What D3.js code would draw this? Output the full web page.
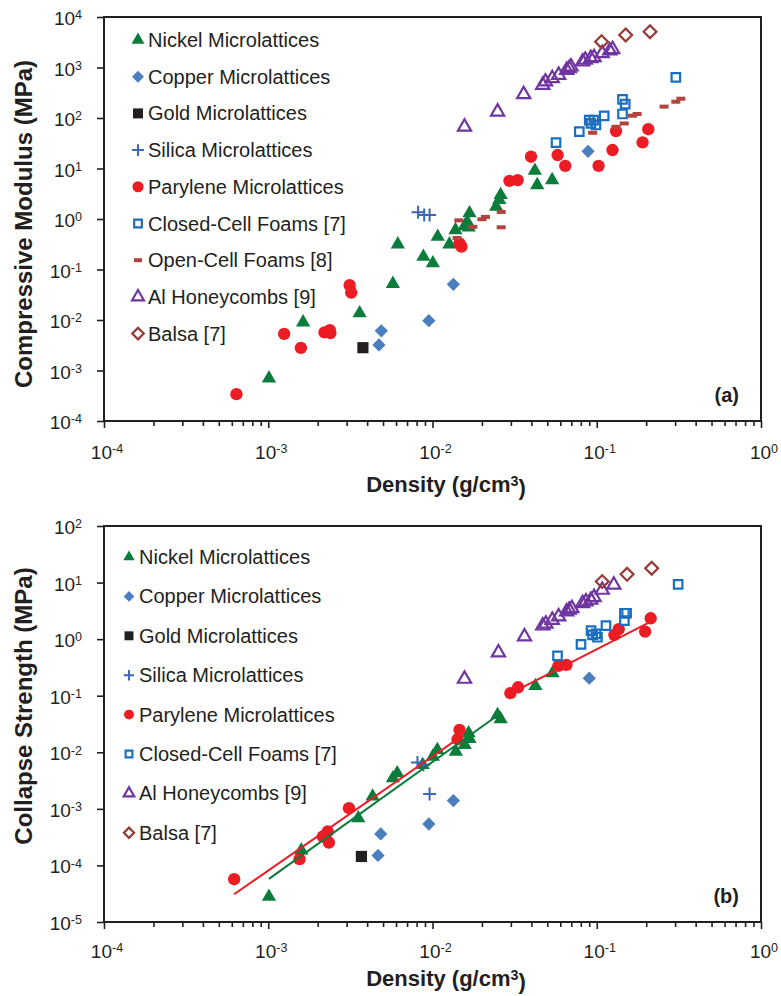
<!DOCTYPE html>
<html>
<head>
<meta charset="utf-8">
<script src="https://cdn.jsdelivr.net/npm/d3@7"></script>
<style>
  body { margin: 0; background: #fff; }
  text { font-family: "Liberation Sans", Arial, sans-serif; fill: #231f20; }
</style>
</head>
<body>
<svg id="chart" width="781" height="996"></svg>
<script>
// Values: [density (g/cm3), value (MPa)]

// (a) compressive modulus
const nickelModulus = [[0.00101, 7.0e-4], [0.00163, 0.009], [0.0036, 0.0136], [0.00574, 0.052], [0.00615, 0.315],
  [0.0088, 0.18], [0.01005, 0.133], [0.01076, 0.447], [0.01267, 0.315], [0.0138, 0.605], [0.0163, 0.87],
  [0.0166, 0.685], [0.0168, 1.3], [0.0157, 0.73], [0.0244, 1.75], [0.0255, 2.38], [0.026, 2.99],
  [0.042, 9.05], [0.0434, 4.7], [0.0535, 5.9]];
const copperModulus = [[0.00488, 0.0061], [0.00472, 0.0032], [0.0095, 0.0097], [0.0134, 0.051], [0.0886, 21.9]];
const goldModulus = [[0.00377, 0.00283]];
const silicaModulus = [[0.00817, 1.36], [0.0089, 1.2], [0.0096, 1.2]];
const paryleneModulus = [[0.00064, 0.00034], [0.00125, 0.0053], [0.00158, 0.0028], [0.0022, 0.0057],
  [0.00237, 0.0063], [0.00239, 0.0055], [0.00313, 0.049], [0.0032, 0.035], [0.0146, 0.33], [0.015, 0.283],
  [0.0294, 5.7], [0.033, 5.9], [0.0398, 17.1], [0.0578, 18.5], [0.0643, 11.3], [0.1026, 11.3],
  [0.1247, 23.2], [0.131, 55], [0.19, 33], [0.206, 60]];
const closedModulus = [[0.0565, 32.4], [0.0783, 53.6], [0.09, 91], [0.0922, 78.5], [0.0989, 72.6], [0.096, 91],
  [0.111, 110], [0.1435, 234], [0.149, 189], [0.1435, 120], [0.303, 640]];
const openModulus = [[0.01445, 0.94], [0.0141, 0.42], [0.0176, 0.7], [0.02, 0.99], [0.021, 1.1], [0.0262, 1.38],
  [0.0262, 0.685], [0.0944, 51], [0.131, 67], [0.147, 78], [0.165, 111], [0.176, 120], [0.257, 168],
  [0.303, 210], [0.325, 241]];
const alModulus = [[0.01566, 67], [0.0249, 133], [0.0359, 294], [0.0469, 450], [0.0487, 524], [0.0536, 611],
  [0.0586, 710], [0.0656, 891], [0.068, 964], [0.0697, 1038], [0.082, 1303], [0.0851, 1410], [0.092, 1520],
  [0.0963, 1590], [0.108, 1910], [0.125, 2290], [0.12, 2150]];
const balsaModulus = [[0.107, 3240], [0.15, 4400], [0.211, 5110]];

// (b) collapse strength
const nickelStrength = [[0.00101, 2.8e-5], [0.00159, 1.85e-4], [0.00353, 6.85e-4], [0.00432, 1.66e-3],
  [0.00574, 3.48e-3], [0.0061, 4.27e-3], [0.0087, 5.98e-3], [0.01005, 8.4e-3], [0.0107, 0.011],
  [0.01387, 0.0103], [0.0157, 0.0135], [0.0166, 0.0217], [0.0168, 0.0173], [0.0249, 0.0458],
  [0.026, 0.0385], [0.0423, 0.149], [0.0538, 0.25]];
const copperStrength = [[0.00484, 3.6e-4], [0.00466, 1.5e-4], [0.0095, 5.4e-4], [0.0134, 1.4e-3], [0.09, 0.204]];
const goldStrength = [[0.00369, 1.44e-4]];
const silicaStrength = [[0.0081, 6.6e-3], [0.0088, 6.0e-3], [0.0096, 1.84e-3]];
const paryleneStrength = [[0.00062, 5.7e-5], [0.00155, 1.29e-4], [0.00215, 3.24e-4], [0.0023, 3.97e-4],
  [0.00234, 2.54e-4], [0.0031, 1.03e-3], [0.0146, 0.0249], [0.0142, 0.017], [0.0298, 0.111], [0.0332, 0.141],
  [0.0584, 0.336], [0.0654, 0.35], [0.128, 1.19], [0.136, 1.5], [0.197, 1.36], [0.213, 2.34]];
const closedStrength = [[0.0577, 0.505], [0.0802, 0.81], [0.0923, 1.41], [0.0944, 1.19], [0.099, 1.24],
  [0.101, 1.08], [0.1138, 1.73], [0.1474, 2.87], [0.152, 2.87], [0.1474, 2.12], [0.313, 9.3]];
const alStrength = [[0.01566, 0.198], [0.0252, 0.577], [0.0363, 1.11], [0.0469, 1.73], [0.049, 1.86],
  [0.0536, 2.18], [0.0586, 2.5], [0.0656, 3.06], [0.068, 3.28], [0.0706, 3.51], [0.082, 4.31], [0.086, 4.61],
  [0.092, 4.93], [0.0963, 5.5], [0.108, 7.4], [0.127, 9.1]];
const balsaStrength = [[0.108, 10.4], [0.153, 14.0], [0.216, 17.9]];

// power-law fit lines in (b), end points
const nickelFit = [[0.00101, 5.8e-5], [0.026, 0.049]];
const paryleneFitLow = [[0.00062, 3.1e-5], [0.0149, 0.0189]];
const paryleneFitHigh = [[0.0301, 0.111], [0.213, 2.04]];

// axes
const densityExponents = [-4, -3, -2, -1, 0];
const modulusExponents = [-4, -3, -2, -1, 0, 1, 2, 3, 4];
const strengthExponents = [-5, -4, -3, -2, -1, 0, 1, 2];

const names = {
  nickel: "Nickel Microlattices", copper: "Copper Microlattices", gold: "Gold Microlattices",
  silica: "Silica Microlattices", parylene: "Parylene Microlattices", closed: "Closed-Cell Foams [7]",
  open: "Open-Cell Foams [8]", al: "Al Honeycombs [9]", balsa: "Balsa [7]"
};

// marker styles
const styles = {
  nickel:   { shape: "tri",  color: "#0b7c3b" },
  copper:   { shape: "dia",  color: "#4a7ebf" },
  gold:     { shape: "sq",   color: "#231f20" },
  silica:   { shape: "plus", color: "#3b65b8" },
  parylene: { shape: "circ", color: "#ec1c24" },
  closed:   { shape: "osq",  color: "#1a6fbe" },
  open:     { shape: "dash", color: "#b1443f" },
  al:       { shape: "otri", color: "#6f36a0" },
  balsa:    { shape: "odia", color: "#963a35" }
};

const svg = d3.select("#chart");
const xLeft = 104, xRight = 761;

function drawMarker(g, key, cx, cy, k) {
  const s = styles[key];
  const t = `translate(${cx},${cy})`;
  switch (s.shape) {
    case "tri":
      g.append("path").attr("d", d3.symbol(d3.symbolTriangle, 88 * k * k)()).attr("transform", t).attr("fill", s.color);
      break;
    case "dia":
      g.append("path").attr("d", d3.symbol(d3.symbolSquare, 88 * k * k)()).attr("transform", t + " rotate(45)").attr("fill", s.color);
      break;
    case "sq":
      g.append("path").attr("d", d3.symbol(d3.symbolSquare, 125 * k * k)()).attr("transform", t).attr("fill", s.color);
      break;
    case "plus": {
      const h = 6.5 * k;
      g.append("path").attr("d", `M${-h},0H${h}M0,${-h}V${h}`).attr("transform", t)
        .attr("stroke", s.color).attr("stroke-width", 2).attr("fill", "none");
      break;
    }
    case "circ":
      g.append("path").attr("d", d3.symbol(d3.symbolCircle, 120 * k * k)()).attr("transform", t).attr("fill", s.color);
      break;
    case "osq":
      g.append("path").attr("d", d3.symbol(d3.symbolSquare, 72 * k * k)()).attr("transform", t)
        .attr("fill", "none").attr("stroke", s.color).attr("stroke-width", 2.2);
      break;
    case "dash":
      g.append("rect").attr("x", cx - 4.5 * k).attr("y", cy - 2).attr("width", 9 * k).attr("height", 4)
        .attr("fill", s.color);
      break;
    case "otri":
      g.append("path").attr("d", d3.symbol(d3.symbolTriangle, 75 * k * k)()).attr("transform", t)
        .attr("fill", "none").attr("stroke", s.color).attr("stroke-width", 2.2);
      break;
    case "odia":
      g.append("path").attr("d", d3.symbol(d3.symbolSquare, 82 * k * k)()).attr("transform", t + " rotate(45)")
        .attr("fill", "none").attr("stroke", s.color).attr("stroke-width", 2.2);
      break;
  }
}

function powerLabel(sel, exp) {
  sel.append("tspan").text("10");
  sel.append("tspan").attr("dy", "-0.45em").attr("font-size", "0.66em").text(exp);
}

function drawPanel(cfg) {
  const x = d3.scaleLog().domain([1e-4, 1]).range([xLeft, xRight]);
  const y = d3.scaleLog().domain(cfg.yDomain).range([cfg.bottom, cfg.top]);
  const g = svg.append("g");

  // x axis ticks: majors plus 2..9 minors
  const minors = [];
  densityExponents.slice(0, -1).forEach(e => {
    for (let m = 2; m <= 9; m++) minors.push(m * Math.pow(10, e));
  });
  g.append("g").attr("transform", `translate(0,${cfg.bottom})`)
    .call(d3.axisBottom(x).tickValues(minors).tickSize(5).tickFormat(""))
    .call(a => a.select(".domain").remove())
    .call(a => a.selectAll("line").attr("stroke", "#231f20").attr("stroke-width", 1.6));
  g.append("g").attr("transform", `translate(0,${cfg.bottom})`)
    .call(d3.axisBottom(x).tickValues(densityExponents.map(e => Math.pow(10, e))).tickSize(7).tickFormat(""))
    .call(a => a.select(".domain").remove())
    .call(a => a.selectAll("line").attr("stroke", "#231f20").attr("stroke-width", 1.6));
  g.append("g").attr("transform", `translate(${xLeft},0)`)
    .call(d3.axisLeft(y).tickValues(cfg.exps.map(e => Math.pow(10, e))).tickSize(7).tickFormat(""))
    .call(a => a.select(".domain").remove())
    .call(a => a.selectAll("line").attr("stroke", "#231f20").attr("stroke-width", 1.6));

  // tick labels
  densityExponents.forEach(e => {
    g.append("text").attr("x", x(Math.pow(10, e)) + 3).attr("y", cfg.xLabelY)
      .attr("text-anchor", "middle").attr("font-size", 19)
      .call(s => powerLabel(s, e));
  });
  cfg.exps.forEach(e => {
    g.append("text").attr("x", xLeft - 22).attr("y", y(Math.pow(10, e)) + 8)
      .attr("text-anchor", "end").attr("font-size", 19)
      .call(s => powerLabel(s, e));
  });

  // frame
  g.append("rect").attr("x", xLeft).attr("y", cfg.top)
    .attr("width", xRight - xLeft).attr("height", cfg.bottom - cfg.top)
    .attr("fill", "none").attr("stroke", "#231f20").attr("stroke-width", 2);

  // axis titles
  const xt = g.append("text").attr("x", 446).attr("y", cfg.xTitleY)
    .attr("text-anchor", "middle").attr("font-size", 22).attr("font-weight", "bold");
  xt.append("tspan").text("Density (g/cm");
  xt.append("tspan").attr("dy", "-0.4em").attr("font-size", "0.65em").text("3");
  xt.append("tspan").attr("dy", "0.4em").text(")");

  g.append("text").attr("transform", `translate(32,${cfg.yTitleMid}) rotate(-90)`)
    .attr("text-anchor", "middle").attr("font-size", 24).attr("font-weight", "bold")
    .text(cfg.yTitle);

  g.append("text").attr("x", 739).attr("y", cfg.bottom - 19)
    .attr("text-anchor", "end").attr("font-size", 20).attr("font-weight", "bold")
    .text(cfg.tag);

  // data points
  const pts = g.append("g");
  cfg.series.forEach(([key, data]) => {
    data.forEach(d => drawMarker(pts, key, x(d[0]), y(d[1]), 1));
  });

  // fits
  const line = d3.line().x(d => x(d[0])).y(d => y(d[1]));
  (cfg.fits || []).forEach(([data, color]) => {
    g.append("path").attr("d", line(data)).attr("fill", "none")
      .attr("stroke", color).attr("stroke-width", 2);
  });

  // legend
  const lg = g.append("g");
  cfg.series.forEach(([key], i) => {
    const by = cfg.legendY + i * cfg.legendStep;
    drawMarker(lg, key, cfg.legendMarkerX, by - 7, cfg.legendScale);
    lg.append("text").attr("x", cfg.legendTextX).attr("y", by)
      .attr("font-size", 20).text(names[key]);
  });
}

drawPanel({
  top: 17, bottom: 421, yDomain: [1e-4, 1e4], exps: modulusExponents,
  xLabelY: 459, xTitleY: 492, yTitle: "Compressive Modulus (MPa)", yTitleMid: 224, tag: "(a)",
  legendY: 47, legendStep: 36.7, legendMarkerX: 138, legendTextX: 148, legendScale: 0.9,
  series: [["nickel", nickelModulus], ["copper", copperModulus], ["gold", goldModulus],
    ["silica", silicaModulus], ["parylene", paryleneModulus], ["closed", closedModulus],
    ["open", openModulus], ["al", alModulus], ["balsa", balsaModulus]]
});

drawPanel({
  top: 526, bottom: 922, yDomain: [1e-5, 1e2], exps: strengthExponents,
  xLabelY: 958, xTitleY: 986, yTitle: "Collapse Strength (MPa)", yTitleMid: 706, tag: "(b)",
  legendY: 564, legendStep: 39.4, legendMarkerX: 129, legendTextX: 139, legendScale: 0.8,
  series: [["nickel", nickelStrength], ["copper", copperStrength], ["gold", goldStrength],
    ["silica", silicaStrength], ["parylene", paryleneStrength], ["closed", closedStrength],
    ["al", alStrength], ["balsa", balsaStrength]],
  fits: [[nickelFit, "#0b7c3b"], [paryleneFitLow, "#ec1c24"], [paryleneFitHigh, "#ec1c24"]]
});
</script>
</body>
</html>
